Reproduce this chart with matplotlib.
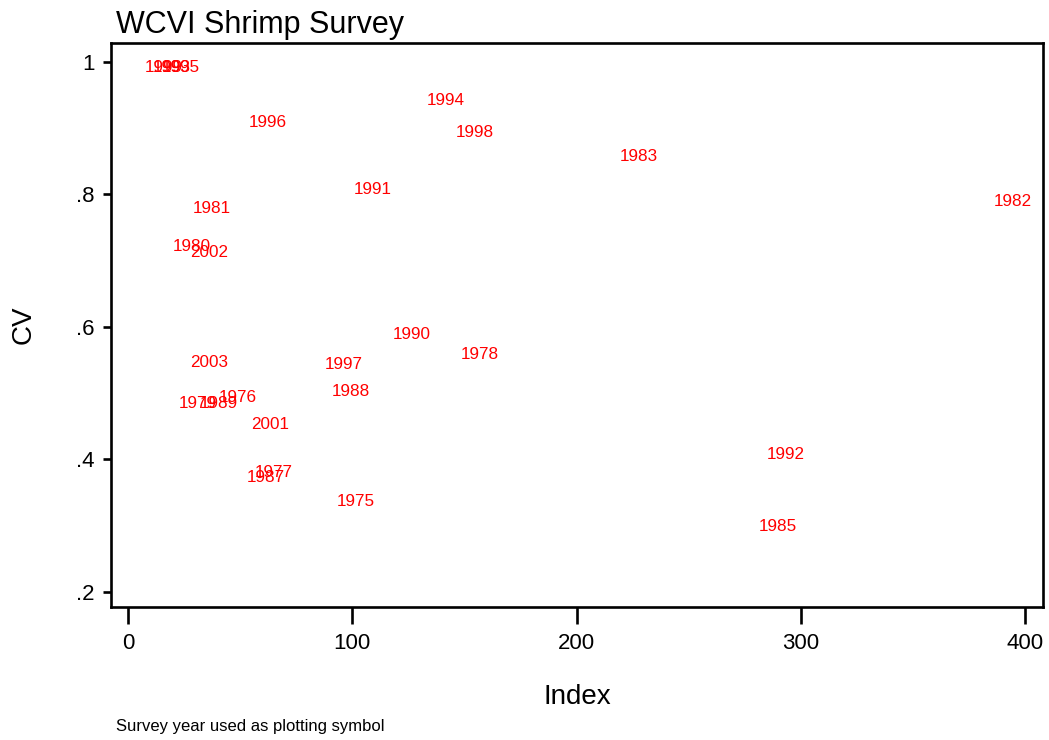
import matplotlib
matplotlib.use("Agg")
import matplotlib.pyplot as plt

# Survey results: biomass index and coefficient of variation per year
years = [1975, 1976, 1977, 1978, 1979, 1980, 1981, 1982, 1983, 1985,
         1987, 1988, 1989, 1990, 1991, 1992, 1993, 1994, 1995, 1996,
         1997, 1998, 1999, 2001, 2002, 2003]
index = [101.7, 49.1, 65.1, 157.0, 31.2, 28.5, 37.5, 394.6, 227.9, 289.9,
         61.5, 99.4, 40.6, 126.6, 109.3, 293.4, 19.6, 141.8, 23.6, 62.4,
         96.3, 154.7, 16.1, 63.3, 36.1, 36.1]
cv = [0.337, 0.494, 0.380, 0.558, 0.485, 0.722, 0.778, 0.790, 0.857, 0.298,
      0.372, 0.503, 0.485, 0.588, 0.808, 0.407, 0.992, 0.941, 0.992, 0.908,
      0.543, 0.893, 0.992, 0.452, 0.712, 0.546]

xticks = [0, 100, 200, 300, 400]
yticks = [0.2, 0.4, 0.6, 0.8, 1.0]
ytick_labels = [".2", ".4", ".6", ".8", "1"]

plt.rcParams['font.family'] = ['Liberation Sans', 'DejaVu Sans']

fig = plt.figure(figsize=(10.49, 7.40), dpi=100)
ax = fig.add_axes([0.1058, 0.1797, 0.8885, 0.7626])

# year labels act as the plotting symbols
for yr, x, y in zip(years, index, cv):
    ax.text(x, y, str(yr), color='#ff0000', fontsize=12.3,
            ha='center', va='center')

ax.set_xlim(-7.6, 408.0)
ax.set_ylim(0.177, 1.029)
ax.set_xticks(xticks)
ax.set_yticks(yticks)
ax.set_yticklabels(ytick_labels)

for sp in ax.spines.values():
    sp.set_linewidth(1.9)
ax.tick_params(axis='x', length=12, width=1.9, pad=7, labelsize=16)
ax.tick_params(axis='y', length=6, width=1.9, pad=6, labelsize=16)

ax.set_xlabel('Index', fontsize=20, labelpad=21)
ax.set_ylabel('CV', fontsize=20, labelpad=28)

fig.text(0.1106, 0.956, 'WCVI Shrimp Survey', fontsize=22, ha='left', va='baseline')
fig.text(0.1106, 0.012, 'Survey year used as plotting symbol', fontsize=12, ha='left', va='baseline')

fig.savefig('out.png', dpi=100)
